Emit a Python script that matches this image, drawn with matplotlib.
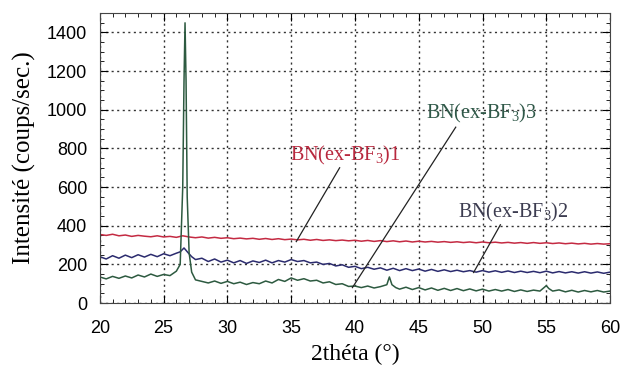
import matplotlib
matplotlib.use("Agg")
import matplotlib.pyplot as plt
from matplotlib.ticker import MultipleLocator
import numpy as np

# data (2theta in degrees, intensity in counts/s)
theta = np.arange(20, 60.01, 0.5)

red_y = [355, 350, 356, 348, 352, 345, 350, 346, 343, 348, 342, 345, 340, 348, 342, 338,
         342, 336, 340, 335, 338, 333, 336, 332, 335, 330, 334, 329, 333, 328, 331, 327,
         330, 325, 329, 324, 327, 323, 326, 322, 325, 320, 324, 319, 323, 318, 322, 317,
         321, 316, 320, 316, 319, 315, 318, 314, 317, 313, 316, 312, 316, 312, 315, 311,
         314, 310, 313, 309, 313, 309, 312, 308, 311, 307, 310, 306, 309, 305, 308, 305, 307]

blue_x = [20, 20.5, 21, 21.5, 22, 22.5, 23, 23.5, 24, 24.5, 25, 25.5, 26, 26.3, 26.6, 26.9,
          27.2, 27.5, 28, 28.5, 29, 29.5, 30, 30.5, 31, 31.5, 32, 32.5, 33, 33.5, 34, 34.5,
          35, 35.5, 36, 36.5, 37, 37.5, 38, 38.5, 39, 39.5, 40, 40.5, 41, 41.5, 42, 42.5,
          43, 43.5, 44, 44.5, 45, 45.5, 46, 46.5, 47, 47.5, 48, 48.5, 49, 49.5, 50, 50.5,
          51, 51.5, 52, 52.5, 53, 53.5, 54, 54.5, 55, 55.5, 56, 56.5, 57, 57.5, 58, 58.5,
          59, 59.5, 60]
blue_y = [240, 228, 245, 232, 248, 235, 250, 238, 252, 240, 255, 245, 258, 265, 285, 262,
          240, 225, 232, 215, 228, 212, 222, 208, 220, 205, 218, 210, 222, 208, 220, 212,
          225, 215, 220, 208, 212, 200, 205, 192, 198, 185, 190, 178, 185, 175, 182, 170,
          180, 168, 178, 168, 176, 165, 174, 164, 172, 163, 170, 162, 168, 160, 168, 160,
          167, 159, 166, 158, 165, 158, 164, 157, 165, 156, 163, 156, 162, 155, 162, 155,
          161, 154, 160]

green_x = [20, 20.5, 21, 21.5, 22, 22.5, 23, 23.5, 24, 24.5, 25, 25.5, 26, 26.3, 26.5, 26.6,
           26.68, 26.76, 26.85, 27.0, 27.2, 27.5, 28, 28.5, 29, 29.5, 30, 30.5, 31, 31.5, 32,
           32.5, 33, 33.5, 34, 34.5, 35, 35.5, 36, 36.5, 37, 37.5, 38, 38.5, 39, 39.5, 40,
           40.5, 41, 41.5, 42, 42.5, 42.7, 42.9, 43.2, 43.5, 44, 44.5, 45, 45.5, 46, 46.5,
           47, 47.5, 48, 48.5, 49, 49.5, 50, 50.5, 51, 51.5, 52, 52.5, 53, 53.5, 54, 54.5,
           55, 55.2, 55.5, 56, 56.5, 57, 57.5, 58, 58.5, 59, 59.5, 60]
green_y = [135, 125, 138, 128, 140, 130, 145, 135, 150, 138, 148, 142, 165, 200, 600, 1150,
           1450, 1150, 550, 260, 160, 120, 112, 104, 114, 102, 112, 100, 108, 96, 106,
           100, 114, 104, 122, 112, 130, 118, 126, 114, 118, 104, 110, 96, 100, 86, 88,
           80, 88, 78, 85, 95, 135, 95, 80, 72, 82, 70, 80, 68, 78, 66,
           76, 65, 75, 64, 73, 63, 72, 62, 70, 62, 70, 60, 68, 60, 67, 62,
           90, 75, 62, 68, 58, 66, 57, 65, 58, 65, 57, 62]

labels = ["BN(ex-BF$_3$)1", "BN(ex-BF$_3$)2", "BN(ex-BF$_3$)3"]
label_xy = [(38.8, 700), (51.4, 405), (47.9, 910)]      # where the leader line starts
label_pt = [(35.4, 318), (49.3, 158), (39.8, 80)]       # point on the curve
label_txt = [(39.2, 765), (52.4, 470), (49.9, 980)]
colors = ["#c42a42", "#2b2b6e", "#2d5a40"]
text_colors = ["#b8283e", "#3c3c50", "#2f5848"]

plt.rcParams["mathtext.fontset"] = "custom"
plt.rcParams["mathtext.rm"] = "Liberation Serif"
plt.rcParams["mathtext.it"] = "Liberation Serif:italic"

fig = plt.figure(figsize=(6.2, 3.76), dpi=100)
ax = fig.add_axes([0.161, 0.194, 0.823, 0.771])

ax.plot(theta, red_y, color=colors[0], lw=1.1)
ax.plot(blue_x, blue_y, color=colors[1], lw=1.1)
ax.plot(green_x, green_y, color=colors[2], lw=1.1)

for i in range(3):
    ax.plot([label_xy[i][0], label_pt[i][0]], [label_xy[i][1], label_pt[i][1]],
            color="#222222", lw=0.9)
    ax.text(label_txt[i][0], label_txt[i][1], labels[i], color=text_colors[i],
            fontsize=14.5, family="Liberation Serif", ha="center", va="center")

ax.set_xlim(20, 60)
ax.set_ylim(0, 1500)
ax.set_xticks(np.arange(20, 61, 5))
ax.set_yticks(np.arange(0, 1401, 200))
ax.xaxis.set_minor_locator(MultipleLocator(1))
ax.yaxis.set_minor_locator(MultipleLocator(50))
ax.tick_params(which="both", direction="in", top=True, right=True, labelsize=13)
ax.tick_params(axis="x", pad=12)
ax.tick_params(axis="y", pad=9)
ax.tick_params(which="major", length=6)
ax.tick_params(which="minor", length=3)
for lab in ax.get_xticklabels() + ax.get_yticklabels():
    lab.set_family("Liberation Sans")
ax.grid(True, which="major", color="#333333", ls=(0, (1.5, 2.5)), lw=1.0)
for s in ax.spines.values():
    s.set_color("#444444")

ax.set_xlabel("2théta (°)", family="Liberation Serif", fontsize=17, labelpad=5)
ax.set_ylabel("Intensité (coups/sec.)", family="Liberation Serif", fontsize=18, labelpad=8)

fig.savefig("out.png", dpi=100)
